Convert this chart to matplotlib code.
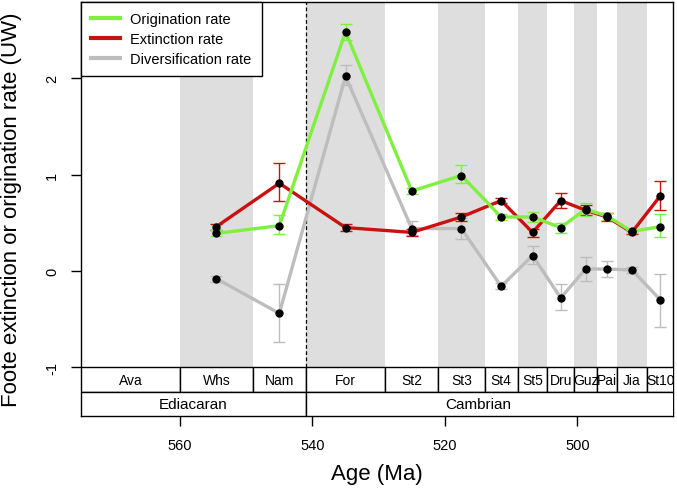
import matplotlib
matplotlib.use("Agg")
import matplotlib.pyplot as plt
from matplotlib.patches import Rectangle

# stage boundaries (Ma) and names
stage_names = ["Ava", "Whs", "Nam", "For", "St2", "St3", "St4", "St5", "Dru", "Guz", "Pai", "Jia", "St10"]
stage_base = [575, 560, 549, 541, 529, 521, 514, 509, 504.5, 500.5, 497, 494, 489.5]
stage_top = [560, 549, 541, 529, 521, 514, 509, 504.5, 500.5, 497, 494, 489.5, 485.4]
shaded = ["Whs", "For", "St3", "St5", "Guz", "Jia"]

period_names = ["Ediacaran", "Cambrian"]
period_base = [575, 541]
period_top = [541, 485.4]
period_label_x = [558, 515]

# rates for stages Whs..St10
rate_stages = stage_names[1:]
rate_age = [554.5, 545, 535, 525, 517.5, 511.5, 506.75, 502.5, 498.75, 495.5, 491.75, 487.45]
orig = [0.39, 0.47, 2.48, 0.83, 0.99, 0.56, 0.56, 0.45, 0.64, 0.57, 0.41, 0.46]
orig_lo = [0.36, 0.38, 2.40, 0.80, 0.91, 0.53, 0.51, 0.39, 0.57, 0.53, 0.39, 0.35]
orig_hi = [0.42, 0.58, 2.56, 0.86, 1.10, 0.59, 0.61, 0.50, 0.71, 0.60, 0.43, 0.59]

ext = [0.46, 0.91, 0.45, 0.40, 0.56, 0.73, 0.40, 0.73, 0.63, 0.56, 0.40, 0.78]
ext_lo = [0.43, 0.73, 0.41, 0.36, 0.52, 0.70, 0.35, 0.65, 0.58, 0.52, 0.38, 0.63]
ext_hi = [0.49, 1.12, 0.49, 0.44, 0.60, 0.76, 0.44, 0.81, 0.68, 0.60, 0.42, 0.93]

div = [-0.08, -0.44, 2.02, 0.44, 0.44, -0.16, 0.16, -0.28, 0.02, 0.02, 0.01, -0.30]
div_lo = [-0.11, -0.74, 1.93, 0.37, 0.33, -0.19, 0.07, -0.41, -0.10, -0.06, -0.02, -0.58]
div_hi = [-0.05, -0.14, 2.14, 0.52, 0.55, -0.13, 0.26, -0.14, 0.14, 0.10, 0.04, -0.03]

green = "#80f040"
red = "#cc1010"
grey = "#bdbdbd"

plt.rcParams['font.family'] = ['Liberation Sans', 'DejaVu Sans']
fig = plt.figure(figsize=(6.77, 4.89), dpi=100)
ax = fig.add_axes([0.1192, 0.1472, 0.8753, 0.8466])
ax.set_xlim(575, 485.5)
ax.set_ylim(-1.505, 2.79)

# grey stage bands
for name, b, t in zip(stage_names, stage_base, stage_top):
    if name in shaded:
        ax.add_patch(Rectangle((t, -1), b - t, 4, facecolor="#dedede", edgecolor="none", zorder=0))

ax.plot([541, 541], [-1, 2.79], color="black", ls=(0, (3, 2)), lw=0.9, zorder=1)

# time scale boxes
for name, b, t in zip(stage_names, stage_base, stage_top):
    ax.add_patch(Rectangle((t, -1.26), b - t, 0.26, facecolor="white", edgecolor="black", lw=1, zorder=3))
    ax.text((b + t) / 2, -1.13, name, ha="center", va="center", fontsize=10, zorder=4)
for name, b, t, lx in zip(period_names, period_base, period_top, period_label_x):
    ax.add_patch(Rectangle((t, -1.505), b - t, 0.245, facecolor="white", edgecolor="black", lw=1, zorder=3))
    ax.text(lx, -1.38, name, ha="center", va="center", fontsize=11, zorder=4)

series = [(div, div_lo, div_hi, grey, "Diversification rate"),
          (ext, ext_lo, ext_hi, red, "Extinction rate"),
          (orig, orig_lo, orig_hi, green, "Origination rate")]
handles = {}
for vals, lo, hi, col, lab in series:
    line, = ax.plot(rate_age, vals, color=col, lw=2.4, zorder=2, label=lab)
    handles[lab] = line
    yerr = [[v - l for v, l in zip(vals, lo)], [h - v for v, h in zip(vals, hi)]]
    ax.errorbar(rate_age, vals, yerr=yerr, fmt="none", ecolor=col, elinewidth=1, capsize=4, capthick=1, zorder=2)
    ax.plot(rate_age, vals, "o", color="black", ms=5, zorder=5)

order = ["Origination rate", "Extinction rate", "Diversification rate"]
leg = ax.legend([handles[k] for k in order], order, loc="upper left", bbox_to_anchor=(0, 1),
                borderaxespad=0, fancybox=False, fontsize=10.5, handlelength=2.0, handletextpad=0.7,
                labelspacing=0.4, borderpad=0.7, framealpha=1)
leg.get_frame().set_edgecolor("black")
leg.get_frame().set_linewidth(1)
for h in leg.get_lines():
    h.set_linewidth(3)

ax.set_yticks([-1, 0, 1, 2])
ax.set_yticklabels(["-1", "0", "1", "2"], rotation=90, va="center", ha="center")
ax.set_xticks([560, 540, 520, 500])
ax.tick_params(axis="both", labelsize=10.5, length=7, width=1)
ax.tick_params(axis="y", pad=13.5)
ax.tick_params(axis="x", pad=9)
for s in ax.spines.values():
    s.set_linewidth(1)

ax.set_xlabel("Age (Ma)", fontsize=16)
ax.xaxis.set_label_coords(0.5, -0.14)
ax.xaxis.label.set_va("center")
ax.set_ylabel("Foote extinction or origination rate (UW)", fontsize=16)
ax.yaxis.set_label_coords(-0.116, 0.5)
ax.yaxis.label.set_va("center")

fig.savefig("out.png", dpi=100)
